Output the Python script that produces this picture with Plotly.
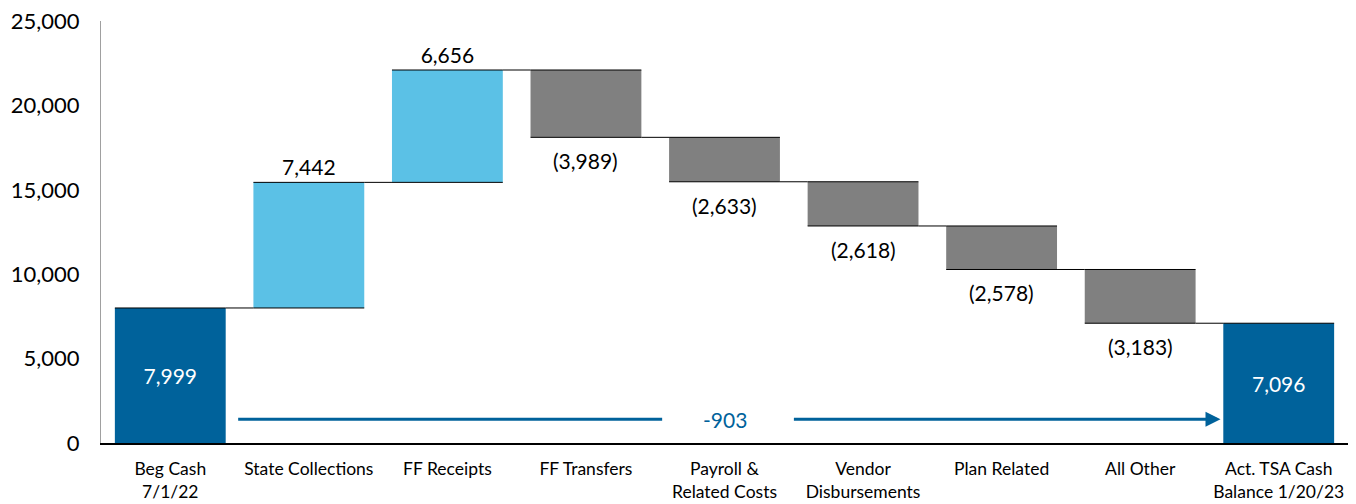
import plotly.graph_objects as go

categories = ["Beg Cash<br>7/1/22", "State Collections", "FF Receipts", "FF Transfers",
              "Payroll &<br>Related Costs", "Vendor<br>Disbursements", "Plan Related",
              "All Other", "Act. TSA Cash<br>Balance 1/20/23"]
values = [7999, 7442, 6656, -3989, -2633, -2618, -2578, -3183, 7096]
measures = ["absolute", "relative", "relative", "relative", "relative", "relative",
            "relative", "relative", "total"]
y_ticks = [0, 5000, 10000, 15000, 20000, 25000]

def fmt(v, m):
    if m == "relative" and v < 0:
        return f"({abs(v):,})"
    return f"{v:,}"

texts = [fmt(v, m) for v, m in zip(values, measures)]
positions = []
for v, m in zip(values, measures):
    if m != "relative":
        positions.append("inside")
    elif v > 0:
        positions.append("outside")
    else:
        positions.append("none")

FONT = "Lato"
DARK = "#00629B"
LIGHT = "#5BC1E6"
GRAY = "#808080"
LBL = 21

fig = go.Figure(go.Waterfall(
    x=list(range(len(categories))),
    y=values,
    measure=measures,
    text=texts,
    textposition=positions,
    insidetextanchor="middle",
    insidetextfont=dict(color="white", size=LBL, family=FONT),
    outsidetextfont=dict(color="black", size=LBL, family=FONT),
    textfont=dict(size=LBL, family=FONT),
    increasing=dict(marker=dict(color=LIGHT, line=dict(color=LIGHT, width=0))),
    decreasing=dict(marker=dict(color=GRAY, line=dict(color=GRAY, width=0))),
    totals=dict(marker=dict(color=DARK, line=dict(color=DARK, width=0))),
    connector=dict(mode="spanning", line=dict(color="black", width=1)),
    cliponaxis=False,
    hoverinfo="skip",
))

# labels below decreasing bars
level = 0
for i, (v, m) in enumerate(zip(values, measures)):
    if m == "absolute":
        level = v
    elif m == "relative":
        level += v
        if v < 0:
            fig.add_annotation(x=i, y=level, text=texts[i], showarrow=False,
                               yanchor="top", yshift=-9,
                               font=dict(color="black", size=LBL, family=FONT))

# change annotation (end total minus beginning)
delta = values[-1] - values[0]
arrow_y = 1400
fig.add_shape(type="line", x0=0.49, x1=3.55, y0=arrow_y, y1=arrow_y,
              line=dict(color=DARK, width=3))
fig.add_annotation(x=7.58, y=arrow_y, ax=4.49, ay=arrow_y, xref="x", yref="y",
                   axref="x", ayref="y", showarrow=True, arrowhead=2, arrowsize=1,
                   arrowwidth=3, arrowcolor=DARK, text="")
fig.add_annotation(x=4.0, y=arrow_y, text=f"{delta:,}", showarrow=False,
                   font=dict(color=DARK, size=LBL, family=FONT))

fig.update_layout(
    width=1340, height=496,
    margin=dict(l=93, r=0, t=13, b=61),
    paper_bgcolor="white", plot_bgcolor="white",
    showlegend=False,
    bargap=0.23,
    font=dict(family=FONT, color="black"),
    xaxis=dict(tickmode="array", tickvals=list(range(len(categories))), ticktext=categories,
               range=[-0.5, len(categories) - 0.5], showline=True, linecolor="black",
               linewidth=1.5, showgrid=False, zeroline=False, ticks="", automargin=False,
               ticklabeloverflow="allow",
               ticklabelstandoff=9, tickfont=dict(size=17.5, family=FONT)),
    yaxis=dict(range=[0, 25000], tickvals=y_ticks, tickformat=",", showline=True,
               linecolor="#A0A0A0", linewidth=1, showgrid=False, zeroline=False,
               ticks="", automargin=False, tickfont=dict(size=22, family=FONT),
               ticklabeloverflow="allow", ticklabelstandoff=16),
)

fig.write_html("out.html")
